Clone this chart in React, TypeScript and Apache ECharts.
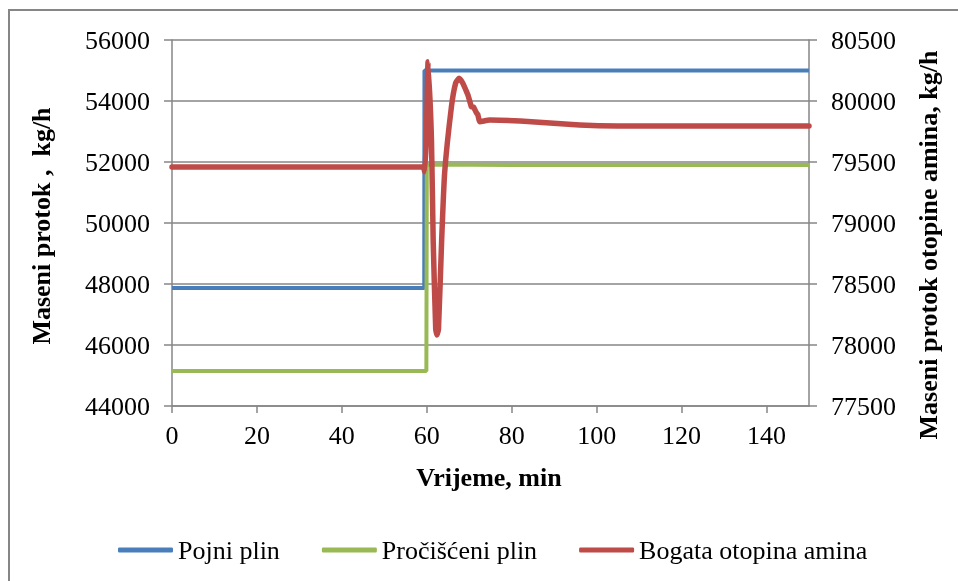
import React, { useEffect, useRef } from "react";
import * as echarts from "echarts";

const FONT = "Liberation Serif";

const seriesNames = ["Pojni plin", "Pročišćeni plin", "Bogata otopina amina"];

const feedTime = [0, 59.4, 59.45, 150];
const feedFlow = [47870, 47870, 55000, 55000];

const cleanTime = [0, 59.9, 60.0, 62, 80, 150];
const cleanFlow = [45150, 45150, 51910, 51920, 51905, 51900];

const richTime = [
  0, 59.1, 59.5, 59.9, 60.3, 61.1, 61.5, 62.1, 62.4, 62.75, 63.5, 64.2, 65.8, 66.8, 67.6,
  68.5, 69.2, 69.7, 70.5, 71.0, 71.7, 72.0, 72.5, 74.8, 82, 96, 105, 150,
];
const richFlow = [
  79460, 79460, 79420, 79700, 80322, 79680, 78860, 78130, 78082, 78130, 78861, 79410, 79953,
  80148, 80186, 80145, 80090, 80049, 79953, 79950, 79902, 79890, 79830, 79844, 79836, 79803,
  79795, 79795,
];

const xTicks = { min: 0, max: 150, interval: 20 };
const yLeftTicks = { min: 44000, max: 56000, interval: 2000 };
const yRightTicks = { min: 77500, max: 80500, interval: 500 };

const zip = (a: number[], b: number[]) => a.map((v, i) => [v, b[i]]);

export default function App() {
  const ref = useRef<HTMLDivElement>(null);
  useEffect(() => {
    if (!ref.current) return;
    const chart = echarts.init(ref.current, null, { renderer: "svg" });
    const gray = "#868686";
    const titleStyle = {
      fontFamily: FONT,
      fontSize: 26,
      fontWeight: "bold",
      fill: "#000",
      textAlign: "center",
      textVerticalAlign: "middle",
    };
    chart.setOption({
      animation: false,
      graphic: [
        {
          type: "rect",
          shape: { x: 9, y: 10, width: 980, height: 620 },
          style: { fill: "none", stroke: gray, lineWidth: 2 },
          silent: true,
        },
        {
          type: "text",
          x: 41,
          y: 226,
          rotation: Math.PI / 2,
          style: { ...titleStyle, text: "Maseni protok ,  kg/h" },
        },
        {
          type: "text",
          x: 928,
          y: 245,
          rotation: Math.PI / 2,
          style: { ...titleStyle, text: "Maseni protok otopine amina, kg/h" },
        },
        {
          type: "text",
          x: 489,
          y: 477,
          style: { ...titleStyle, text: "Vrijeme, min" },
        },
      ],
      grid: { left: 172, right: 149, top: 40, bottom: 175 },
      xAxis: {
        type: "value",
        min: xTicks.min,
        max: xTicks.max,
        interval: xTicks.interval,
        axisLine: { show: true, lineStyle: { color: gray, width: 1.5 } },
        axisTick: { show: true, length: 7, lineStyle: { color: gray, width: 1.5 } },
        axisLabel: {
          fontFamily: FONT,
          fontSize: 26,
          fontWeight: 400,
          color: "#000",
          margin: 16,
          showMaxLabel: false,
        },
        splitLine: { show: false },
      },
      yAxis: [
        {
          type: "value",
          min: yLeftTicks.min,
          max: yLeftTicks.max,
          interval: yLeftTicks.interval,
          position: "left",
          axisLine: { show: true, lineStyle: { color: gray, width: 1.5 } },
          axisTick: { show: true, length: 8, lineStyle: { color: gray, width: 1.5 } },
          axisLabel: {
            fontFamily: FONT,
            fontSize: 26,
            fontWeight: 400,
            color: "#000",
            margin: 22,
            formatter: (v: number) => String(v),
          },
          splitLine: { show: true, lineStyle: { color: gray, width: 1.5 } },
        },
        {
          type: "value",
          min: yRightTicks.min,
          max: yRightTicks.max,
          interval: yRightTicks.interval,
          position: "right",
          axisLine: { show: true, lineStyle: { color: gray, width: 1.5 } },
          axisTick: { show: true, length: 8, lineStyle: { color: gray, width: 1.5 } },
          axisLabel: {
            fontFamily: FONT,
            fontSize: 26,
            fontWeight: 400,
            color: "#000",
            margin: 22,
            formatter: (v: number) => String(v),
          },
          splitLine: { show: false },
        },
      ],
      legend: {
        left: 113,
        top: 532,
        icon: "roundRect",
        itemWidth: 55,
        itemHeight: 5,
        itemGap: 42,
        textStyle: { fontFamily: FONT, fontSize: 26, fontWeight: 400, color: "#000" },
        data: seriesNames,
      },
      series: [
        {
          name: seriesNames[0],
          type: "line",
          yAxisIndex: 0,
          showSymbol: false,
          color: "#4A7EBB",
          lineStyle: { width: 4, color: "#4A7EBB" },
          data: zip(feedTime, feedFlow),
        },
        {
          name: seriesNames[1],
          type: "line",
          yAxisIndex: 0,
          showSymbol: false,
          color: "#98B954",
          lineStyle: { width: 4, color: "#98B954" },
          data: zip(cleanTime, cleanFlow),
        },
        {
          name: seriesNames[2],
          type: "line",
          yAxisIndex: 1,
          showSymbol: false,
          smooth: 0.15,
          color: "#BE4B48",
          lineStyle: { width: 5.5, color: "#BE4B48", join: "round", cap: "round" },
          data: zip(richTime, richFlow),
        },
      ],
    });
    return () => chart.dispose();
  }, []);
  return (
    <div
      ref={ref}
      style={{ position: "fixed", left: 0, top: 0, width: 958, height: 581 }}
    />
  );
}
